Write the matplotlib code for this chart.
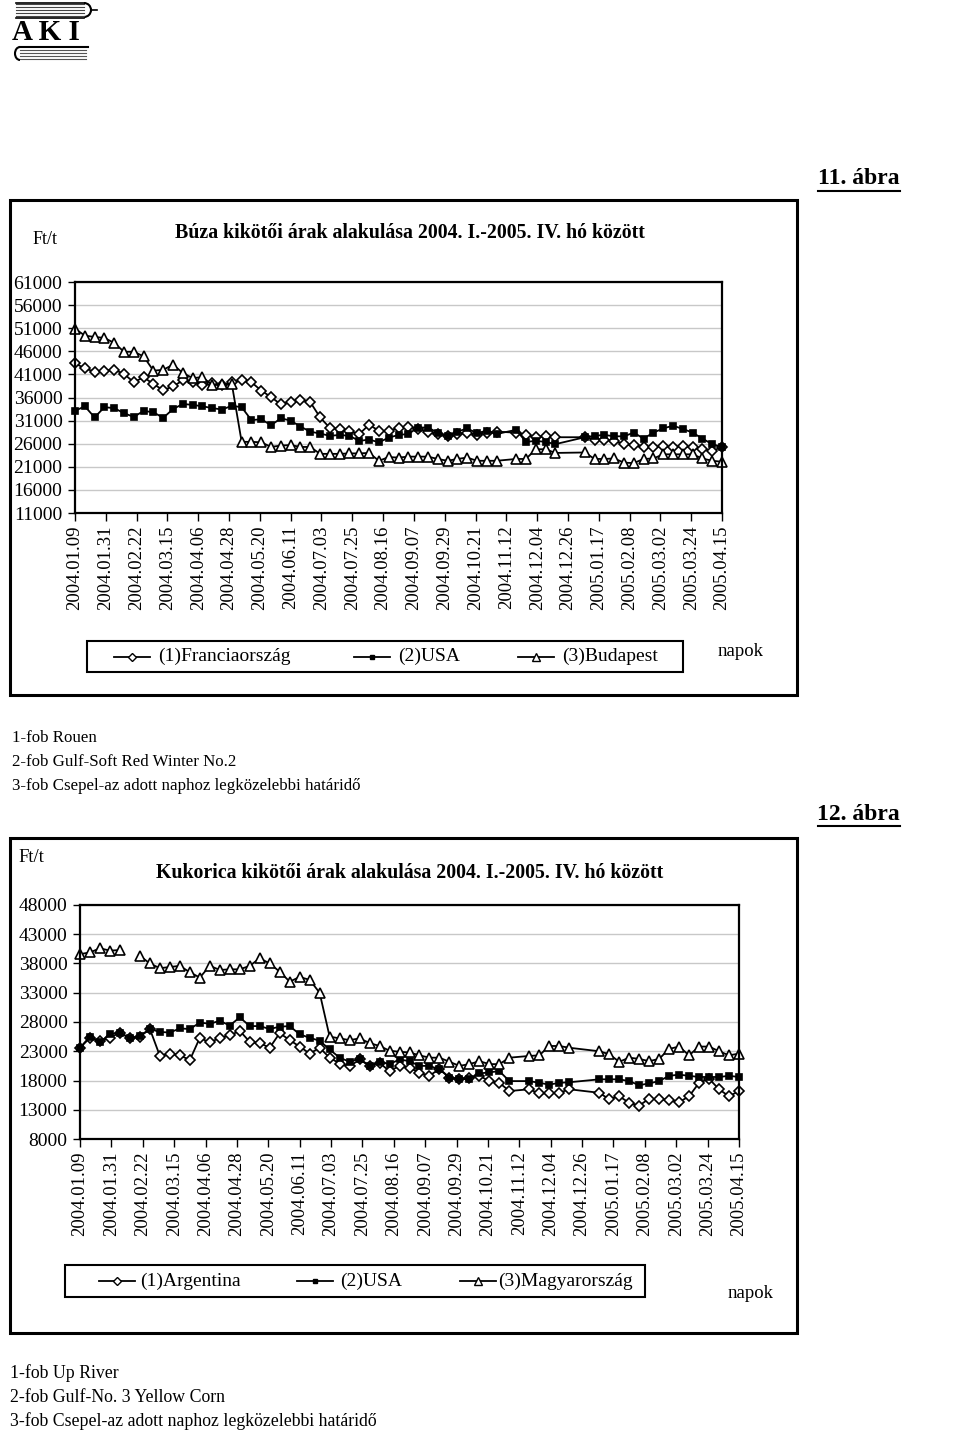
import matplotlib
matplotlib.use('Agg')
import matplotlib.pyplot as plt
import numpy as np
import pandas as pd
from matplotlib.patches import Rectangle, Arc

W, H = 960, 1432
plt.rcParams['font.family'] = ['Liberation Serif', 'DejaVu Serif']

# x axis: weekly Friday quotes, labelled every 22 days
TICK_LABELS = ['2004.01.09', '2004.01.31', '2004.02.22', '2004.03.15', '2004.04.06',
               '2004.04.28', '2004.05.20', '2004.06.11', '2004.07.03', '2004.07.25',
               '2004.08.16', '2004.09.07', '2004.09.29', '2004.10.21', '2004.11.12',
               '2004.12.04', '2004.12.26', '2005.01.17', '2005.02.08', '2005.03.02',
               '2005.03.24', '2005.04.15']

# None = no quote that week (line joins over it), NaN = break in the line
N = None
NaN = float('nan')

# 11. ábra - wheat (Ft/t)
WHEAT_FR = [43400, 42300, 41600, 41800, 42000, 41100, 39300, 40400, 38900, 37600,
            38400, 39700, 39400, 38600, 39100, 38600, 39300, 39700, 39300, 37500,
            36100, 34500, 35100, 35500, 35000, 31700, 29400, 29200, 28700, 28100,
            30100, 28800, 28700, 29500, 29700, 29200, 28600, 28100, 27700, 28100,
            28400, 27900, 28400, 28600, N, 28400, 27900, 27400, 27600, 27400,
            N, N, 27400, 26900, 26900, 26600, 25900, 25700, 25200, 25200,
            25500, 25200, 25500, 25200, 24800, 24500, 25200]
WHEAT_USA = [33100, 34100, 31700, 33900, 33700, 32600, 31800, 33100, 32800, 31600,
             33500, 34600, 34400, 34100, 33700, 33400, 34200, 33900, 31100, 31300,
             30000, 31500, 31000, 29700, 28600, 28200, 27700, 27900, 27700, 26600,
             26900, 26300, 27300, 27900, 28100, 29500, 29500, 28400, 27600, 28600,
             29300, 28300, 28800, 28100, N, 29000, 26400, 26600, 26400, 25900,
             N, N, 27400, 27700, 27900, 27600, 27600, 28400, 27100, 28400,
             29300, 29900, 29200, 28400, 27100, 25900, 25300]
WHEAT_BP = [50900, 49400, 49100, 48900, 47800, 45900, 45900, 44900, 41800, 42000,
            43100, 41300, 40200, 40400, 38700, 38900, 38900, 26400, 26400, 26300,
            25300, 25600, 25700, 25300, 25300, 23800, 23800, 23800, 23900, 23900,
            24000, 22300, 23100, 23000, 23200, 23200, 23200, 22700, 22300, 22700,
            23000, 22300, 22300, 22300, N, 22700, 22700, 24800, 24800, 24000,
            N, N, 24100, 22700, 22700, 22800, 21900, 21800, 22700, 22800,
            23700, 23700, 23700, 23700, 22800, 22300, 22100]

# 12. ábra - maize (Ft/t)
CORN_ARG = [23600, 25300, 24800, 25300, 26200, 25200, 25500, 26800, 22200, 22600,
            22300, 21500, 25300, 24500, 25300, 25700, 26500, 24600, 24400, 23600,
            26100, 24900, 23800, 22600, 23600, 21900, 20900, 20400, 21600, 20500,
            21000, 19600, 20500, 20200, 19300, 18800, 20000, 18500, 18200, 18500,
            18800, 17900, 17600, 16200, N, 16500, 15800, 15800, 15900, 16500,
            N, N, 15900, 14800, 15300, 14200, 13700, 14900, 14800, 14700,
            14300, 15300, 17600, 18300, 16500, 15300, 16200]
CORN_USA = [23600, 25500, 24500, 25900, 26200, 25200, 25600, 26800, 26300, 26200,
            26900, 26800, 27900, 27700, 28200, 27400, 28800, 27300, 27300, 26800,
            27200, 27300, 25900, 25300, 24800, 23300, 21900, 21200, 21700, 20500,
            21200, 20800, 21600, 21300, 20500, 20500, 19900, 18500, 18200, 18300,
            19200, 19400, 19600, 17900, N, 17900, 17600, 17300, 17600, 17700,
            N, N, 18200, 18200, 18200, 17900, 17200, 17500, 17900, 18800,
            19000, 18800, 18600, 18600, 18600, 18800, 18600]
CORN_HU = [39600, 39900, 40600, 40200, 40300, NaN, 39300, 38000, 37200, 37400,
           37600, 36500, 35600, 37600, 36900, 37000, 37000, 37600, 38900, 38000,
           36600, 34900, 35700, 35200, 33000, 25500, 25200, 24900, 25200, 24400,
           23900, 23100, 22900, 22800, 22300, 21900, 21900, 21200, 20500, 20800,
           21300, 20800, 20800, 21900, N, 22200, 22300, 23900, 23900, 23600,
           N, N, 23000, 22500, 21200, 21900, 21700, 21300, 21700, 23400,
           23800, 22300, 23800, 23800, 23000, 22300, 22600]

tick_dates = pd.to_datetime(TICK_LABELS, format='%Y.%m.%d')
weeks = pd.date_range(tick_dates[0], tick_dates[-1], freq='7D')

STYLES = [dict(marker='D', ms=5.2, mfc='white'),
          dict(marker='s', ms=5.0, mfc='black'),
          dict(marker='^', ms=7.5, mfc='white')]

fig = plt.figure(figsize=(W / 100, H / 100), dpi=100)
ov = fig.add_axes([0, 0, 1, 1])
ov.set_xlim(0, W)
ov.set_ylim(H, 0)
ov.axis('off')


def px_axes(x0, y0, x1, y1):
    return fig.add_axes([x0 / W, 1 - y1 / H, (x1 - x0) / W, (y1 - y0) / H])


def draw_chart(box, ylo, yhi, series):
    ax = px_axes(*box)
    for vals, st in zip(series, STYLES):
        xs = [d for d, v in zip(weeks, vals) if v is not None]
        ys = [v for v in vals if v is not None]
        ax.plot(xs, ys, color='black', lw=1.3, mec='black', mew=1.2,
                clip_on=False, **st)
    ax.set_xlim(weeks[0], weeks[-1])
    ax.set_ylim(ylo, yhi)
    ax.set_yticks(np.arange(ylo, yhi + 1, 5000))
    ax.set_xticks(tick_dates)
    ax.set_xticklabels(TICK_LABELS, rotation=90, fontsize=13.5)
    ax.tick_params(axis='y', labelsize=14, length=5, width=1, pad=4)
    ax.tick_params(axis='x', length=6, width=1, pad=3)
    ax.grid(axis='y', color='#c8c8c8', lw=1)
    ax.set_axisbelow(True)
    for s in ax.spines.values():
        s.set_linewidth(1.6)
    return ax


def draw_legend(box, handles, texts, labels):
    x0, y0, x1, y1 = box
    ov.add_patch(Rectangle((x0, y0), x1 - x0, y1 - y0, fill=False, lw=1.5, ec='black'))
    yc = (y0 + y1) / 2
    for hx, tx, lab, st in zip(handles, texts, labels, STYLES):
        ov.plot([hx - 18, hx + 18], [yc, yc], color='black', lw=1.3)
        ov.plot([hx], [yc], color='black', mec='black', mew=1.0, marker=st['marker'],
                ms=st['ms'] * 0.72, mfc=st['mfc'])
        ov.text(tx, yc, lab, fontsize=14, ha='left', va='center')


# logo
for yy in [4, 7, 10, 13, 16]:
    ov.plot([16, 84], [yy, yy], color='#444444', lw=0.8)
ov.add_patch(Arc((84, 10), 14, 14, theta1=-90, theta2=90, lw=1.5, color='black'))
ov.plot([91, 97], [10, 10], color='black', lw=1.2)
ov.plot([16, 84], [2.5, 2.5], color='black', lw=1.2)
ov.plot([16, 84], [17.5, 17.5], color='black', lw=1.2)
ov.text(46, 33, 'A K I', fontsize=21, fontweight='bold', ha='center', va='center')
for yy in [50, 53, 56, 59]:
    ov.plot([20, 86], [yy, yy], color='#555555', lw=0.8)
ov.plot([20, 88], [47, 47], color='black', lw=1.5)
ov.add_patch(Arc((20, 53.5), 10, 13, theta1=90, theta2=270, lw=1.5, color='black'))

# figure 11
ov.text(900, 179, '11. ábra', fontsize=17, fontweight='bold', ha='right', va='center')
ov.plot([818, 900], [191, 191], color='black', lw=1.5)
ov.add_patch(Rectangle((10, 200), 787, 495, fill=False, lw=2.2, ec='black'))
ov.text(33, 240, 'Ft/t', fontsize=13, ha='left', va='center')
ov.text(410, 233, 'Búza kikötői árak alakulása 2004. I.-2005. IV. hó között',
        fontsize=14.3, fontweight='bold', ha='center', va='center')
draw_chart((75, 282, 722, 513), 11000, 61000, [WHEAT_FR, WHEAT_USA, WHEAT_BP])
draw_legend((87, 641, 683, 672), [132, 372, 536], [158, 398, 562],
            ['(1)Franciaország', '(2)USA', '(3)Budapest'])
ov.text(718, 652, 'napok', fontsize=13.5, ha='left', va='center')
for yy, t in zip([738, 762, 786], ['1-fob Rouen', '2-fob Gulf-Soft Red Winter No.2',
                                   '3-fob Csepel-az adott naphoz legközelebbi határidő']):
    ov.text(12, yy, t, fontsize=12.2, ha='left', va='center')

# figure 12
ov.text(900, 814, '12. ábra', fontsize=17, fontweight='bold', ha='right', va='center')
ov.plot([818, 900], [826, 826], color='black', lw=1.5)
ov.add_patch(Rectangle((10, 838), 787, 495, fill=False, lw=2.2, ec='black'))
ov.text(18, 857, 'Ft/t', fontsize=13.5, ha='left', va='center')
ov.text(410, 873, 'Kukorica kikötői árak alakulása 2004. I.-2005. IV. hó között',
        fontsize=14.3, fontweight='bold', ha='center', va='center')
draw_chart((80, 905, 739, 1139), 8000, 48000, [CORN_ARG, CORN_USA, CORN_HU])
draw_legend((65, 1265, 645, 1297), [117, 315, 478], [140, 340, 498],
            ['(1)Argentina', '(2)USA', '(3)Magyarország'])
ov.text(728, 1294, 'napok', fontsize=13.5, ha='left', va='center')
for yy, t in zip([1373, 1398, 1421], ['1-fob Up River', '2-fob Gulf-No. 3 Yellow Corn',
                                      '3-fob Csepel-az adott naphoz legközelebbi határidő']):
    ov.text(10, yy, t, fontsize=12.8, ha='left', va='center')

fig.savefig('out.png', dpi=100)
